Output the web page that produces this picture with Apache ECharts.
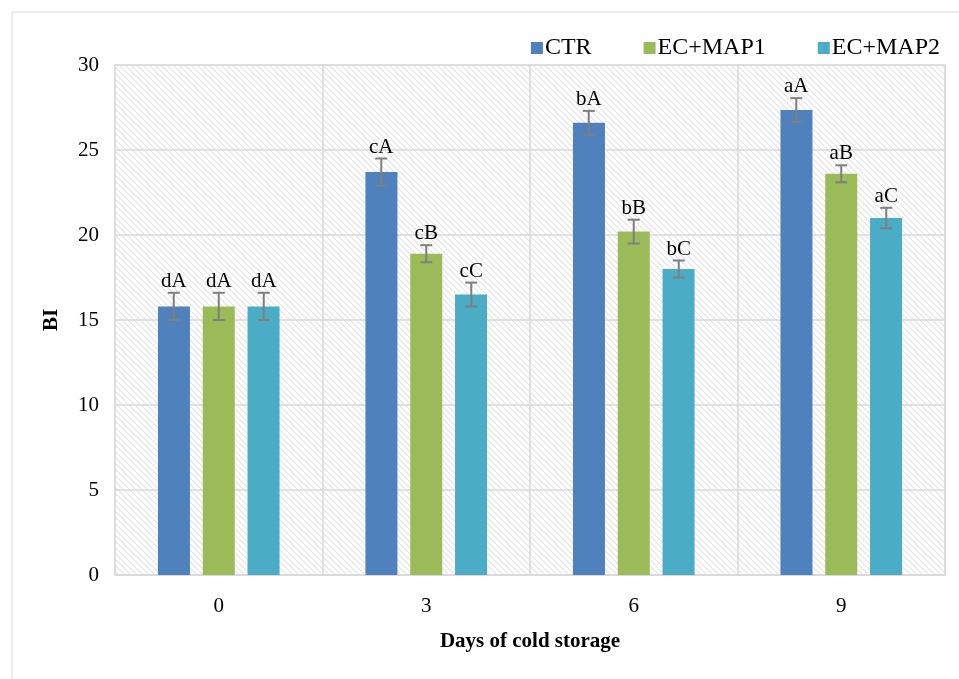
<!DOCTYPE html>
<html>
<head>
<meta charset="utf-8">
<script src="https://cdn.jsdelivr.net/npm/echarts@6/dist/echarts.min.js"></script>
<style>
  html, body { margin: 0; padding: 0; background: #fff; }
  #main { width: 959px; height: 679px; }
</style>
</head>
<body>
<div id="main"></div>
<script>
  // data
  var days = ['0', '3', '6', '9'];
  var seriesNames = ['CTR', 'EC+MAP1', 'EC+MAP2'];
  var ctr = [15.8, 23.7, 26.6, 27.35];
  var map1 = [15.8, 18.9, 20.2, 23.6];
  var map2 = [15.8, 16.5, 18.0, 21.0];
  var ctrErr = [0.8, 0.8, 0.7, 0.7];
  var map1Err = [0.8, 0.5, 0.7, 0.5];
  var map2Err = [0.8, 0.7, 0.5, 0.6];
  var ctrLetters = ['dA', 'cA', 'bA', 'aA'];
  var map1Letters = ['dA', 'cB', 'bB', 'aB'];
  var map2Letters = ['dA', 'cC', 'bC', 'aC'];

  var colors = ['#4f81bd', '#9bbb59', '#4bacc6'];
  var barW = 32, step = 45;

  // hatched background for the plot area
  var hatch = document.createElement('canvas');
  hatch.width = 6; hatch.height = 6;
  var hc = hatch.getContext('2d');
  hc.fillStyle = '#ffffff';
  hc.fillRect(0, 0, 6, 6);
  hc.strokeStyle = '#e2e2e2';
  hc.lineWidth = 1.1;
  hc.beginPath();
  hc.moveTo(-1, -1); hc.lineTo(7, 7);
  hc.moveTo(-1, 5); hc.lineTo(1, 7);
  hc.moveTo(5, -1); hc.lineTo(7, 1);
  hc.stroke();

  var myChart = echarts.init(document.getElementById('main'));

  function errSeries(idx, vals, errs, letters) {
    return {
      type: 'custom',
      name: seriesNames[idx] + ' err',
      z: 5,
      data: vals.map(function (v, i) { return [i, v, errs[i]]; }),
      renderItem: function (params, api) {
        var x = api.value(0), v = api.value(1), e = api.value(2);
        var off = (idx - 1) * step;
        var top = api.coord([x, v + e]);
        var bot = api.coord([x, v - e]);
        var cx = top[0] + off;
        var cap = 6;
        var st = { stroke: '#7f7f7f', lineWidth: 2 };
        return {
          type: 'group',
          children: [
            { type: 'line', shape: { x1: cx, y1: top[1], x2: cx, y2: bot[1] }, style: st },
            { type: 'line', shape: { x1: cx - cap, y1: top[1], x2: cx + cap, y2: top[1] }, style: st },
            { type: 'line', shape: { x1: cx - cap, y1: bot[1], x2: cx + cap, y2: bot[1] }, style: st },
            { type: 'text', x: cx, y: top[1] - 1, style: {
                text: letters[params.dataIndex], fill: '#000',
                font: '21px "Liberation Serif"', align: 'center', verticalAlign: 'bottom'
            } }
          ]
        };
      }
    };
  }

  myChart.setOption({
    animation: false,
    textStyle: { fontFamily: 'Liberation Serif' },
    graphic: [{
      type: 'rect', shape: { x: 12, y: 12, width: 970, height: 690 },
      style: { fill: 'none', stroke: '#d9d9d9', lineWidth: 1 }, silent: true
    }],
    legend: {
      data: seriesNames,
      right: 14, top: 31,
      itemWidth: 12, itemHeight: 12, itemGap: 52,
      icon: 'rect',
      textStyle: { fontSize: 24, color: '#000', fontFamily: 'Liberation Serif', padding: [0, 0, 0, -3] }
    },
    grid: {
      left: 115, right: 14, top: 65, bottom: 104,
      show: true, borderColor: '#d9d9d9', borderWidth: 1,
      backgroundColor: { image: hatch, repeat: 'repeat' }
    },
    xAxis: {
      type: 'category',
      data: days,
      name: 'Days of cold storage',
      nameLocation: 'middle',
      nameGap: 56,
      nameTextStyle: { fontSize: 21, fontWeight: 'bold', color: '#000', fontFamily: 'Liberation Serif' },
      axisLine: { lineStyle: { color: '#d9d9d9', width: 1 } },
      axisTick: { show: false },
      axisLabel: { fontSize: 21, color: '#000', margin: 21 },
      splitLine: { show: true, interval: 0, lineStyle: { color: '#d9d9d9', width: 1.5 } }
    },
    yAxis: {
      type: 'value',
      min: 0, max: 30, interval: 5,
      name: 'BI',
      nameLocation: 'middle',
      nameGap: 53,
      nameTextStyle: { fontSize: 21, fontWeight: 'bold', color: '#000', fontFamily: 'Liberation Serif' },
      axisLine: { show: false },
      axisTick: { show: false },
      axisLabel: { fontSize: 21, color: '#000', margin: 16 },
      splitLine: { lineStyle: { color: '#d9d9d9', width: 1.5 } }
    },
    series: [
      { name: seriesNames[0], type: 'bar', data: ctr, barWidth: barW, barGap: '40%', itemStyle: { color: colors[0] } },
      { name: seriesNames[1], type: 'bar', data: map1, barWidth: barW, barGap: '40%', itemStyle: { color: colors[1] } },
      { name: seriesNames[2], type: 'bar', data: map2, barWidth: barW, barGap: '40%', itemStyle: { color: colors[2] } },
      errSeries(0, ctr, ctrErr, ctrLetters),
      errSeries(1, map1, map1Err, map1Letters),
      errSeries(2, map2, map2Err, map2Letters)
    ]
  });
</script>
</body>
</html>
